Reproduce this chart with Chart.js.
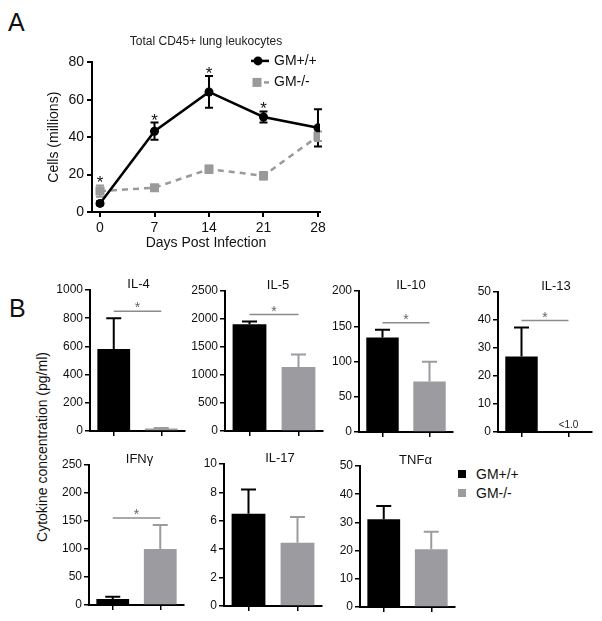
<!DOCTYPE html>
<html><head><meta charset="utf-8">
<script src="https://cdn.jsdelivr.net/npm/chart.js@4"></script>
<style>
body{margin:0;background:#fff;width:602px;height:621px;position:relative;overflow:hidden;font-family:"Liberation Sans",Arial,Helvetica,sans-serif;color:#111}
canvas{position:absolute}
.lbl{position:absolute;white-space:nowrap}
.sq{position:absolute;width:8px;height:8px}
</style></head><body>
<div class="lbl" style="left:8px;top:10px;font-size:25px;line-height:25px">A</div>
<div class="lbl" style="left:9px;top:296px;font-size:25px;line-height:25px">B</div>
<div class="lbl" style="left:-78px;top:439px;width:240px;text-align:center;font-size:14px;line-height:16px;transform:rotate(-90deg)">Cytokine concentration (pg/ml)</div>
<div class="sq" style="left:458px;top:470px;background:#000"></div>
<div class="lbl" style="left:476px;top:466px;font-size:14px;line-height:16px" id="lgB0"></div>
<div class="sq" style="left:458px;top:489px;background:#9c9ca0"></div>
<div class="lbl" style="left:476px;top:485px;font-size:14px;line-height:16px" id="lgB1"></div>
<canvas id="cA" width="330" height="236" style="left:42px;top:20px"></canvas>
<script>
// ---------- data ----------
const seriesNames = ['GM+/+', 'GM-/-'];
const days = [0, 7, 14, 21, 28];
const cellsWT = [4.6, 43.2, 64.2, 50.8, 45];
const cellsWTErr = [1, 4.6, 8.5, 3, 10];
const cellsKO = [11.2, 13, 22.9, 19.4, 40.5];
const cellsKOErr = [3, 1.5, 2, 2, 2.5];
const cellsSig = [true, true, true, true, false];

const cytokines = ['IL-4', 'IL-5', 'IL-10', 'IL-13', 'IFNγ', 'IL-17', 'TNFα'];
const gmWT = [582, 1905, 134, 27, 10.7, 6.5, 31.1];
const gmWTErr = [217, 50, 11, 10.3, 4, 1.7, 4.7];
const gmKO = [18, 1145, 71.5, 0, 100, 4.46, 20.5];
const gmKOErr = [4, 220, 28, 0, 43, 1.8, 6.2];
const gmSig = [true, true, true, true, true, false, false];
const koNote = ['', '', '', '<1.0', '', '', ''];
const yMax = [1000, 2500, 200, 50, 250, 10, 50];
const yStep = [200, 500, 50, 10, 50, 2, 10];

// ---------- layout / style ----------
const F = '"Liberation Sans", Arial, Helvetica, sans-serif';
const BLACK = '#000', GRAY = '#9c9ca0', LGRAY = '#9a9a9a', SIGC = '#8c8c8c';
Chart.defaults.font.family = F;
Chart.defaults.color = '#111';
document.getElementById('lgB0').textContent = seriesNames[0];
document.getElementById('lgB1').textContent = seriesNames[1];
const plain = v => String(v);

// chart areas of the small panels (page px) and title shift
const boxes = [
  {l: 90, t: 290, r: 185, b: 431, ts: 1},
  {l: 225, t: 291, r: 323, b: 431, ts: 4},
  {l: 359, t: 291, r: 453, b: 432, ts: 5},
  {l: 498, t: 292, r: 592, b: 432, ts: 11},
  {l: 89, t: 465, r: 184, b: 605, ts: 3},
  {l: 224, t: 464, r: 322, b: 606, ts: 7},
  {l: 360, t: 466, r: 455, b: 607, ts: 8}
];

// ---------- panel A ----------
const errLinePlugin = {
  id: 'errLine',
  beforeDatasetsDraw(chart) {
    const ctx = chart.ctx, y = chart.scales.y;
    ctx.save();
    chart.data.datasets.forEach((ds, di) => {
      const meta = chart.getDatasetMeta(di);
      ctx.strokeStyle = ds.borderColor; ctx.lineWidth = 2;
      meta.data.forEach((el, j) => {
        const v = ds.data[j].y, e = ds.err[j];
        const yt = y.getPixelForValue(v + e), yb = y.getPixelForValue(v - e);
        ctx.beginPath();
        ctx.moveTo(el.x, yt); ctx.lineTo(el.x, yb);
        ctx.moveTo(el.x - 4, yt); ctx.lineTo(el.x + 4, yt);
        ctx.moveTo(el.x - 4, yb); ctx.lineTo(el.x + 4, yb);
        ctx.stroke();
      });
    });
    ctx.restore();
  },
  afterDraw(chart) {
    const ctx = chart.ctx, y = chart.scales.y, x = chart.scales.x;
    ctx.save();
    // significance stars
    ctx.fillStyle = '#111'; ctx.font = '17px ' + F; ctx.textAlign = 'center'; ctx.textBaseline = 'alphabetic';
    days.forEach((d, j) => {
      if (!cellsSig[j]) return;
      const top = Math.max(cellsWT[j] + cellsWTErr[j], cellsKO[j] + cellsKOErr[j]);
      ctx.fillText('*', x.getPixelForValue(d), y.getPixelForValue(top) + 3);
    });
    // legend
    const lx = chart.chartArea.right - 69, ly0 = chart.chartArea.top - 1.5, ly1 = chart.chartArea.top + 20;
    ctx.lineWidth = 2.5;
    ctx.strokeStyle = BLACK; ctx.beginPath(); ctx.moveTo(lx, ly0); ctx.lineTo(lx + 18, ly0); ctx.stroke();
    ctx.fillStyle = BLACK; ctx.beginPath(); ctx.arc(lx + 7, ly0, 4.5, 0, Math.PI * 2); ctx.fill();
    ctx.fillStyle = LGRAY; ctx.fillRect(lx + 1.5, ly1 - 4.5, 9, 9);
    ctx.strokeStyle = LGRAY; ctx.beginPath(); ctx.moveTo(lx + 13, ly1); ctx.lineTo(lx + 18, ly1); ctx.stroke();
    ctx.fillStyle = '#111'; ctx.font = '14px ' + F; ctx.textAlign = 'left'; ctx.textBaseline = 'middle';
    ctx.fillText(seriesNames[0], lx + 23, ly0);
    ctx.fillText(seriesNames[1], lx + 23, ly1);
    ctx.restore();
  }
};

new Chart(document.getElementById('cA'), {
  type: 'line',
  data: {
    datasets: [
      {label: seriesNames[0], data: days.map((d, i) => ({x: d, y: cellsWT[i]})), err: cellsWTErr,
        borderColor: BLACK, backgroundColor: BLACK, borderWidth: 2.5,
        pointStyle: 'circle', pointRadius: 4.5, pointBackgroundColor: BLACK, pointBorderColor: BLACK, pointBorderWidth: 0},
      {label: seriesNames[1], data: days.map((d, i) => ({x: d, y: cellsKO[i]})), err: cellsKOErr,
        borderColor: LGRAY, backgroundColor: LGRAY, borderWidth: 2.5, borderDash: [6, 5],
        pointStyle: 'rect', pointRadius: 6.4, pointBackgroundColor: LGRAY, pointBorderColor: LGRAY, pointBorderWidth: 0}
    ]
  },
  options: {
    responsive: false, animation: false,
    layout: {padding: {top: 0, right: 52, left: 0, bottom: 0}, autoPadding: false},
    plugins: {
      legend: {display: false}, tooltip: {enabled: false},
      title: {display: true, fullSize: false, text: 'Total CD45+ lung leukocytes', color: '#222',
        font: {size: 12, weight: 'normal', family: F}, padding: {top: 14, bottom: 14}}
    },
    scales: {
      x: {type: 'linear', min: -1.03, max: 28.26,
        afterBuildTicks: s => { s.ticks = days.map(v => ({value: v})); },
        afterFit: s => { s.height = 44; },
        grid: {drawOnChartArea: false, tickLength: 5, color: BLACK, tickColor: BLACK, lineWidth: 2},
        border: {color: BLACK, width: 2},
        ticks: {color: '#111', font: {size: 14}, padding: 3, maxRotation: 0, autoSkip: false, callback: plain},
        title: {display: true, text: 'Days Post Infection', color: '#111', font: {size: 14}, padding: {top: 4, bottom: 4}}},
      y: {min: 0, max: 80,
        afterFit: s => { s.width = 50; },
        grid: {drawOnChartArea: false, tickLength: 5, color: BLACK, tickColor: BLACK, lineWidth: 2},
        border: {color: BLACK, width: 2},
        ticks: {stepSize: 20, color: '#111', font: {size: 14}, padding: 3, callback: plain},
        title: {display: true, text: 'Cells (millions)', color: '#111', font: {size: 14}, padding: {top: 4, bottom: 4}}}
    }
  },
  plugins: [errLinePlugin]
});

// ---------- panel B ----------
const YW = 40, PT = 32, PR = 8, XH = 12;
const barDecor = {
  id: 'barDecor',
  afterDatasetsDraw(chart, args, opts) {
    const i = opts.idx, ctx = chart.ctx, y = chart.scales.y, ca = chart.chartArea;
    const ds = chart.data.datasets[0], meta = chart.getDatasetMeta(0);
    const errs = [gmWTErr[i], gmKOErr[i]];
    ctx.save();
    const tops = [];
    meta.data.forEach((el, j) => {
      const v = ds.data[j], e = errs[j];
      const yt = y.getPixelForValue(v + e);
      tops.push(yt);
      if (e > 0) {
        ctx.strokeStyle = ds.backgroundColor[j]; ctx.lineWidth = 2;
        ctx.beginPath();
        ctx.moveTo(el.x, el.y); ctx.lineTo(el.x, yt);
        ctx.moveTo(el.x - 7.5, yt); ctx.lineTo(el.x + 7.5, yt);
        ctx.stroke();
      }
      if (j === 1 && koNote[i]) {
        ctx.fillStyle = '#222'; ctx.font = '10px ' + F; ctx.textAlign = 'center'; ctx.textBaseline = 'alphabetic';
        ctx.fillText(koNote[i], el.x, y.getPixelForValue(0) - 4);
      }
    });
    if (gmSig[i]) {
      const ly = Math.min(...tops) - 7;
      const x0 = meta.data[0].x, x1 = meta.data[1].x;
      ctx.strokeStyle = SIGC; ctx.lineWidth = 1.5;
      ctx.beginPath(); ctx.moveTo(x0, ly); ctx.lineTo(x1, ly); ctx.stroke();
      ctx.fillStyle = '#666'; ctx.font = '14px ' + F; ctx.textAlign = 'center'; ctx.textBaseline = 'alphabetic';
      ctx.fillText('*', (x0 + x1) / 2, ly + 1);
    }
    ctx.fillStyle = '#111'; ctx.font = '13px ' + F; ctx.textAlign = 'center'; ctx.textBaseline = 'alphabetic';
    ctx.fillText(cytokines[i], (ca.left + ca.right) / 2 + opts.ts, ca.top - 2);
    ctx.restore();
  }
};

cytokines.forEach((name, i) => {
  const bx = boxes[i];
  const cv = document.createElement('canvas');
  const W = bx.r - bx.l + YW + PR, H = bx.b - bx.t + PT + XH;
  cv.width = W; cv.height = H;
  cv.style.left = (bx.l - YW) + 'px'; cv.style.top = (bx.t - PT) + 'px';
  document.body.appendChild(cv);
  new Chart(cv, {
    type: 'bar',
    data: {labels: seriesNames, datasets: [{data: [gmWT[i], gmKO[i]], backgroundColor: [BLACK, GRAY],
      borderWidth: 0, barPercentage: 0.69, categoryPercentage: 1}]},
    options: {
      responsive: false, animation: false,
      layout: {padding: {top: PT, right: PR, left: 0, bottom: 0}, autoPadding: false},
      plugins: {legend: {display: false}, tooltip: {enabled: false}, barDecor: {idx: i, ts: bx.ts}},
      scales: {
        x: {afterFit: s => { s.height = XH; },
          grid: {drawOnChartArea: false, offset: false, tickLength: 5, color: BLACK, tickColor: BLACK, lineWidth: 1.5},
          border: {color: BLACK, width: 2},
          ticks: {callback: () => '', padding: 0}},
        y: {min: 0, max: yMax[i],
          afterFit: s => { s.width = YW; },
          grid: {drawOnChartArea: false, tickLength: 5, color: BLACK, tickColor: BLACK, lineWidth: 1.5},
          border: {color: BLACK, width: 2},
          ticks: {stepSize: yStep[i], color: '#111', font: {size: 12}, padding: 2, callback: plain}}
      }
    },
    plugins: [barDecor]
  });
});
</script>
</body></html>
